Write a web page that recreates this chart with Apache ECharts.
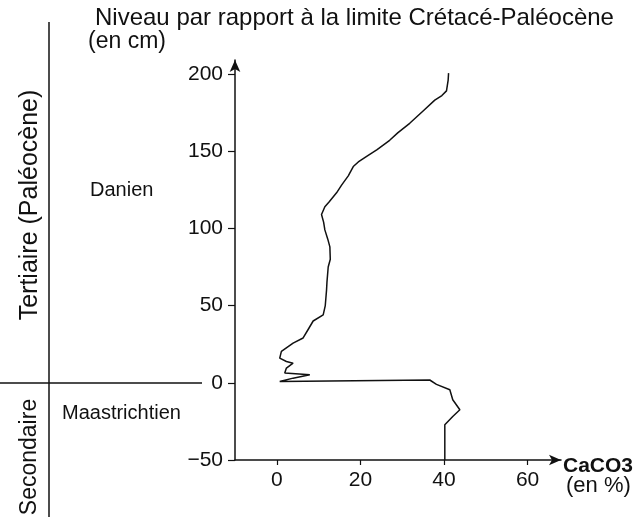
<!DOCTYPE html>
<html>
<head>
<meta charset="utf-8">
<script src="https://cdn.jsdelivr.net/npm/echarts@6/dist/echarts.min.js"></script>
<style>
html,body{margin:0;padding:0;background:#fff;}
#c{width:641px;height:517px;}
</style>
</head>
<body>
<div id="c"></div>
<script>
// CaCO3 (%) and level (cm) relative to the K-Pg boundary, top to bottom
const caco3 = [41.1, 41.0, 40.6, 39.5, 37.8, 35.0, 31.8, 29.0, 27.0, 24.0, 21.5, 19.5, 18.3, 17.1, 15.5, 14.3, 12.5, 11.5, 10.7, 11.2, 11.5, 12.2, 12.7, 12.8, 12.3, 12.0, 11.9, 11.6, 11.1, 8.7, 7.5, 6.3, 3.9, 1.1, 0.7, 2.3, 3.9, 2.3, 1.9, 7.9, 3.9, 0.7, 0.3, 36.6, 38.2, 41.4, 42.1, 43.8, 42.1, 40.2, 40.2];
const niveau = [200.5, 196, 189, 186, 183, 176, 168, 162, 157, 151, 146.6, 143, 140, 134, 128, 123, 117, 114, 109, 104, 99, 93, 88, 80, 75, 65, 60, 50, 44, 40, 34.5, 29, 25.7, 20.3, 16, 13.8, 12.7, 9.5, 6.3, 5.2, 3.0, 0.8, 0.5, 1.8, -1, -4.5, -11, -17.5, -21.8, -27.2, -50];
const xTicks = [0, 20, 40, 60];
const yTicks = [-50, 0, 50, 100, 150, 200];

const ink = '#111';
const font = '"Liberation Sans", Arial, sans-serif';
const data = caco3.map((v, i) => [v, niveau[i]]);

const chart = echarts.init(document.getElementById('c'), null, {renderer: 'canvas'});
chart.setOption({
  animation: false,
  backgroundColor: '#fff',
  grid: {left: 235, right: 80, top: 60, bottom: 57, containLabel: false},
  xAxis: {
    type: 'value', min: -10, max: 68,
    axisLine: {show: true, onZero: false, lineStyle: {color: ink, width: 1.5}, symbol: ['none', 'arrow'], symbolSize: [8, 12]},
    axisTick: {show: true, customValues: xTicks, length: 5, lineStyle: {color: ink, width: 1.2}},
    axisLabel: {customValues: xTicks, color: ink, fontSize: 21, fontFamily: font, margin: 10},
    splitLine: {show: false}
  },
  yAxis: {
    type: 'value', min: -50, max: 209,
    axisLine: {show: true, onZero: false, lineStyle: {color: ink, width: 1.5}, symbol: ['none', 'arrow'], symbolSize: [8, 12]},
    axisTick: {show: true, customValues: yTicks, length: 7, lineStyle: {color: ink, width: 1.2}},
    axisLabel: {customValues: yTicks, color: ink, fontSize: 21, fontFamily: font, margin: 12,
      formatter: v => v < 0 ? '\u2212' + Math.abs(v) : String(v)},
    splitLine: {show: false}
  },
  series: [{
    type: 'line', data: data, showSymbol: false, symbol: 'none',
    lineStyle: {color: ink, width: 1.5}, z: 3
  }],
  graphic: [
    {type: 'line', shape: {x1: 49, y1: 22, x2: 49, y2: 517}, style: {stroke: ink, lineWidth: 1.5}},
    {type: 'line', shape: {x1: 0, y1: 383, x2: 202, y2: 383}, style: {stroke: ink, lineWidth: 1.5}},
    {type: 'text', x: 95, y: 18, style: {text: 'Niveau par rapport à la limite Crétacé-Paléocène', font: '24px ' + font, fill: ink, textVerticalAlign: 'middle'}},
    {type: 'text', x: 88, y: 42, style: {text: '(en cm)', font: '23px ' + font, fill: ink, textVerticalAlign: 'middle'}},
    {type: 'text', x: 90, y: 190, style: {text: 'Danien', font: '20px ' + font, fill: ink, textVerticalAlign: 'middle'}},
    {type: 'text', x: 62, y: 413, style: {text: 'Maastrichtien', font: '20px ' + font, fill: ink, textVerticalAlign: 'middle'}},
    {type: 'text', x: 30, y: 205, rotation: Math.PI / 2, style: {text: 'Tertiaire (Paléocène)', font: '25px ' + font, fill: ink, textAlign: 'center', textVerticalAlign: 'middle'}},
    {type: 'text', x: 30, y: 457, rotation: Math.PI / 2, style: {text: 'Secondaire', font: '23px ' + font, fill: ink, textAlign: 'center', textVerticalAlign: 'middle'}},
    {type: 'text', x: 563, y: 466, style: {text: 'CaCO3', font: 'bold 21px ' + font, fill: ink, textVerticalAlign: 'middle'}},
    {type: 'text', x: 566, y: 486, style: {text: '(en %)', font: '22px ' + font, fill: ink, textVerticalAlign: 'middle'}}
  ]
});
</script>
</body>
</html>
